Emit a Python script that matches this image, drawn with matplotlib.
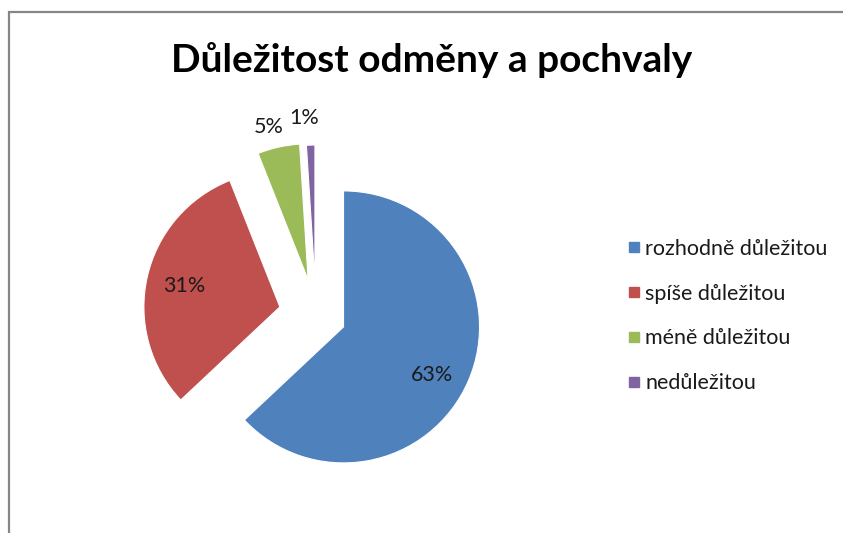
import matplotlib
matplotlib.use("Agg")
import matplotlib.pyplot as plt
from matplotlib.lines import Line2D
from matplotlib.patches import Rectangle
import numpy as np

categories = ["rozhodně důležitou", "spíše důležitou", "méně důležitou", "nedůležitou"]
values = [63, 31, 5, 1]
colors = ["#4F81BD", "#C0504D", "#9BBB59", "#8064A2"]
explode_px = [30, 37, 36, 34]
title = "Důležitost odměny a pochvaly"

W, H = 843, 533
fig = plt.figure(figsize=(W / 100, H / 100), dpi=100)
ax = fig.add_axes([0, 0, 1, 1])

plt.rcParams["font.family"] = ["Lato", "DejaVu Sans"]

R = 136
center = (316, H - 315)
wedges, texts, autotexts = ax.pie(
    values, colors=colors, startangle=90, counterclock=False,
    explode=explode_px, radius=R, center=center,
    autopct="%.0f%%", pctdistance=0.72, frame=True,
    wedgeprops=dict(edgecolor="white", linewidth=0.8),
    textprops=dict(fontsize=15.5, color="#1a1a1a"),
)
ax.set_xlim(0, W)
ax.set_ylim(0, H)
ax.set_aspect("equal")
ax.axis("off")

# blue label sits a bit lower in the slice; small slices: labels outside
for i, dist, dang in [(0, 0.74, -5), (2, 1.16, 2), (3, 1.2, 2)]:
    w = wedges[i]
    ang = np.deg2rad((w.theta1 + w.theta2) / 2 + dang)
    cx, cy = w.center
    autotexts[i].set_position((cx + dist * w.r * np.cos(ang), cy + dist * w.r * np.sin(ang)))

# chart border (top-left visible)
fig.patches.append(Rectangle((8.5 / W, -0.1), 1.2, (H - 12) / H + 0.1,
                             transform=fig.transFigure, fill=False,
                             edgecolor="#868686", linewidth=1.6))

fig.text(432 / W, 1 - 60 / H, title, ha="center", va="center",
         fontsize=28, fontweight="bold", color="black")

handles = [Line2D([], [], marker="s", linestyle="none", markersize=7,
                  markerfacecolor=c, markeredgecolor=c) for c in colors]
leg = ax.legend(handles, categories, loc="upper left",
                bbox_to_anchor=(616 / W, 1 - 228 / H), frameon=False,
                fontsize=15.5, labelspacing=1.15, handlelength=0.7,
                handletextpad=0.15, borderpad=0)
for t in leg.get_texts():
    t.set_color("#1a1a1a")

fig.savefig("out.png", dpi=100, facecolor="white")
